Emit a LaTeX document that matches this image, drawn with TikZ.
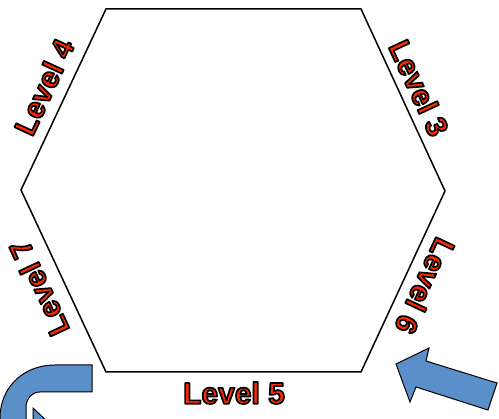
\documentclass[tikz,border=0pt]{standalone}
\usepackage{fontspec}
\setmainfont{Liberation Sans}
\usepackage{xcolor}
\definecolor{lvlred}{HTML}{FF2A00}
\definecolor{arrowblue}{HTML}{5B8FC9}
% red glyphs with a black stroke (text render mode 2)
\newcommand{\lvltext}[1]{{\color{lvlred}\special{pdf:literal direct 2 Tr 1.7 w 0 0 0 RG 1 j}#1\special{pdf:literal direct 0 Tr}}}
\usetikzlibrary{positioning}

\begin{document}
\begin{tikzpicture}[
  x=1pt,y=-1pt,
  level/.style={font=\fontsize{30}{32}\selectfont\bfseries,inner sep=0pt},
  hexline/.style={draw=black,line width=1.5pt,line join=miter},
  blockarrow/.style={draw=black,line width=1pt,fill=arrowblue,line join=miter}
]
\useasboundingbox (0,0) rectangle (499,419);

% hexagon corners
\coordinate (topL) at (106,9);
\coordinate (topR) at (361,9);
\coordinate (midR) at (445,191);
\coordinate (botR) at (361,372);
\coordinate (botL) at (106,372);
\coordinate (midL) at (21,190);
\draw[hexline] (topL) -- (topR) -- (midR) -- (botR) -- (botL) -- (midL) -- cycle;

\node[level,rotate=65.2] (lvlfour) at (44,87) {\lvltext{Level 4}};
\node[level,rotate=-65.2] (lvlthree) at (419,88) {\lvltext{Level 3}};
\node[level,rotate=-115] (lvlsix) at (425,286) {\lvltext{Level 6}};
\node[level,rotate=115] (lvlseven) at (39,288) {\lvltext{Level 7}};
\node[level] (lvlfive) at (234,393) {\lvltext{Level 5}};

% arrows, cut at the picture edge
\begin{scope}
\clip (0,0) rectangle (499,419);
\draw[blockarrow] (396,364) -- (429,348) -- (426,361) -- (497,383)
  -- (488,410) -- (416,387) -- (410,402) -- cycle;
\draw[blockarrow] (92,365) -- (55,365) .. controls (25,365) and (2,385) .. (0,415)
  -- (0,440) -- (26,440) -- (26,406) .. controls (27,398) and (32,392) .. (40,392)
  -- (92,392) -- cycle;
\draw[blockarrow] (33,408) -- (50,424) -- (33,424) -- cycle;
\end{scope}
\end{tikzpicture}
\end{document}
